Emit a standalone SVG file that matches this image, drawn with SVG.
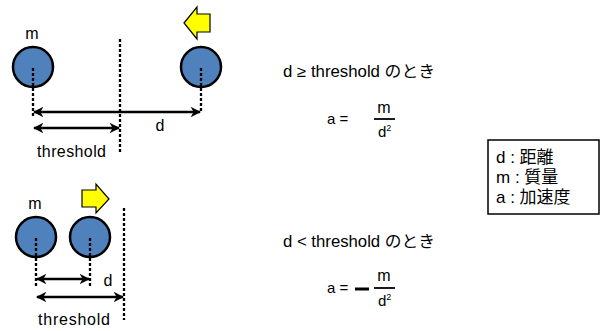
<svg xmlns="http://www.w3.org/2000/svg" width="600" height="331" viewBox="0 0 600 331">
<defs>
<marker id="ah" viewBox="0 0 10 10" refX="9" refY="5" markerWidth="4.2" markerHeight="4.2" orient="auto-start-reverse" markerUnits="strokeWidth">
<path d="M0,0 L10,5 L0,10 L3,5 Z" fill="#000"/>
</marker>
</defs>
<style>
.ball{fill:#4F81BD;stroke:#000;stroke-width:2.5}
.dash{stroke:#000;stroke-width:2.3;stroke-dasharray:3,2;fill:none}
.arr{stroke:#000;stroke-width:2.5;fill:none;marker-start:url(#ah);marker-end:url(#ah)}
.yel{fill:#FFFF00;stroke:#000;stroke-width:1.2;stroke-linejoin:miter}
.t{font-family:"Liberation Sans","Noto Sans CJK JP",sans-serif;fill:#000}
</style>
<rect width="600" height="331" fill="#fff"/>

<g id="top-scene">
<g id="top-ball-left"><circle class="ball" cx="33" cy="67" r="20"/></g>
<g id="top-ball-right"><circle class="ball" cx="201" cy="67" r="20"/></g>
<g id="top-arrow-yellow"><polygon class="yel" points="184,23 197,7 197,14 210,14 210,32 197,32 197,39"/></g>
<text class="t" x="32" y="39" font-size="16" text-anchor="middle">m</text>
<text class="t" x="160" y="131" font-size="16" text-anchor="middle">d</text>
<text class="t" x="37" y="157" font-size="16" textLength="69" lengthAdjust="spacing">threshold</text>
</g>

<g id="bottom-scene">
<g id="bot-ball-left"><circle class="ball" cx="36" cy="237" r="20"/></g>
<g id="bot-ball-right"><circle class="ball" cx="90" cy="237" r="20"/></g>
<g id="bot-arrow-yellow"><polygon class="yel" points="82,190 96,190 96,184 109,199 96,213 96,207 82,207"/></g>
<text class="t" x="35" y="209" font-size="16" text-anchor="middle">m</text>
<text class="t" x="108" y="286" font-size="16" text-anchor="middle">d</text>
<text class="t" x="38" y="325" font-size="16" textLength="72" lengthAdjust="spacing">threshold</text>
</g>

<g id="connectors">
<line class="dash" x1="33" y1="68" x2="33" y2="116"/>
<line class="dash" x1="201" y1="68" x2="201" y2="113"/>
<line class="dash" x1="120" y1="39" x2="120" y2="153"/>
<line class="arr" x1="34" y1="112" x2="200" y2="112"/>
<line class="arr" x1="34" y1="128" x2="119" y2="128"/>
<line class="dash" x1="36" y1="238" x2="36" y2="286"/>
<line class="dash" x1="90" y1="238" x2="90" y2="286"/>
<line class="dash" x1="124" y1="208" x2="124" y2="320"/>
<line class="arr" x1="37" y1="279" x2="89" y2="279"/>
<line class="arr" x1="37" y1="297" x2="123" y2="297"/>
</g>

<g id="formula-top">
<text class="t" x="283" y="77" font-size="16" textLength="152" lengthAdjust="spacingAndGlyphs">d ≥ threshold のとき</text>
<text class="t" x="327" y="124" font-size="15">a =</text>
<text class="t" x="384" y="113" font-size="16" text-anchor="middle">m</text>
<line x1="374" y1="119" x2="395" y2="119" stroke="#000" stroke-width="1.8"/>
<text class="t" x="378" y="137" font-size="15">d<tspan font-size="9" dy="-6">2</tspan></text>
</g>

<g id="formula-bottom">
<text class="t" x="283" y="247" font-size="16" textLength="152" lengthAdjust="spacingAndGlyphs">d &lt; threshold のとき</text>
<text class="t" x="327" y="293" font-size="15">a =</text>
<line x1="355" y1="289" x2="369" y2="289" stroke="#000" stroke-width="3"/>
<text class="t" x="384" y="281" font-size="16" text-anchor="middle">m</text>
<line x1="374" y1="288" x2="395" y2="288" stroke="#000" stroke-width="1.8"/>
<text class="t" x="378" y="306" font-size="15">d<tspan font-size="9" dy="-6">2</tspan></text>
</g>

<g id="legend">
<rect x="488" y="140" width="111" height="74" fill="#fff" stroke="#000" stroke-width="1.5"/>
<text class="t" x="496" y="163" font-size="17">d : 距離</text>
<text class="t" x="496" y="183" font-size="17">m : 質量</text>
<text class="t" x="496" y="203" font-size="17">a : 加速度</text>
</g>
</svg>
